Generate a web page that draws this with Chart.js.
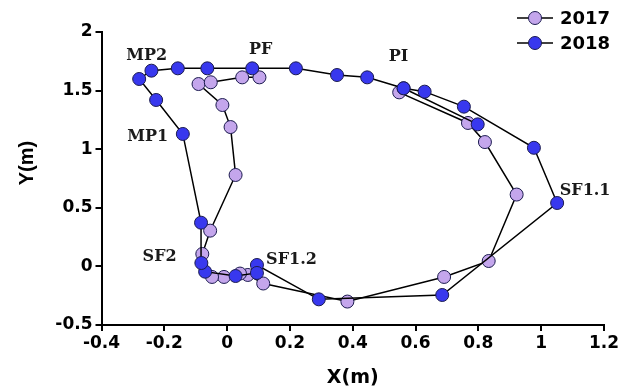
<!DOCTYPE html>
<html>
<head>
<meta charset="utf-8">
<script src="https://cdn.jsdelivr.net/npm/chart.js@4.4.1/dist/chart.umd.min.js"></script>
<style>
  html, body { margin: 0; padding: 0; background: #fff; }
  #wrap { width: 621px; height: 391px; position: relative; }
</style>
</head>
<body>
<div id="wrap"><canvas id="c"></canvas></div>
<script>
// ---- data ----
const seriesNames = ['2017', '2018'];
const x2017 = [0.548, 0.767, 0.821, 0.922, 0.833, 0.691, 0.383, 0.115, 0.066, 0.041, -0.010, -0.048, -0.079, -0.054, 0.027, 0.011, -0.015, -0.091, -0.052, 0.048, 0.103];
const y2017 = [1.485, 1.224, 1.061, 0.613, 0.046, -0.090, -0.300, -0.146, -0.073, -0.061, -0.090, -0.090, 0.106, 0.305, 0.780, 1.189, 1.377, 1.556, 1.571, 1.613, 1.613];
const x2018 = [0.562, 0.629, 0.754, 0.977, 1.051, 0.685, 0.292, 0.095, 0.095, 0.027, -0.070, -0.082, -0.083, -0.141, -0.226, -0.280, -0.241, -0.157, -0.063, 0.080, 0.219, 0.350, 0.446, 0.562, 0.798];
const y2018 = [1.520, 1.491, 1.363, 1.012, 0.541, -0.244, -0.281, 0.012, -0.056, -0.082, -0.045, 0.029, 0.373, 1.130, 1.420, 1.599, 1.670, 1.690, 1.690, 1.690, 1.690, 1.633, 1.613, 1.520, 1.212];

const xTickValues = [-0.4, -0.2, 0, 0.2, 0.4, 0.6, 0.8, 1, 1.2];
const xTickLabels = ['-0.4', '-0.2', '0', '0.2', '0.4', '0.6', '0.8', '1', '1.2'];
const yTickValues = [-0.5, 0, 0.5, 1, 1.5, 2];
const yTickLabels = ['-0.5', '0', '0.5', '1', '1.5', '2'];

const phaseLabels = ['MP2', 'PF', 'PI', 'MP1', 'SF2', 'SF1.2', 'SF1.1'];
const phaseX = [-0.256, 0.107, 0.546, -0.253, -0.215, 0.205, 1.140];
const phaseY = [1.795, 1.846, 1.787, 1.104, 0.080, 0.055, 0.643];

const xTitle = 'X(m)';
const yTitle = 'Y(m)';

// ---- styles ----
const purple = '#c4a6ec';
const blue = '#3838ee';
const edge = '#1c1c50';

function pts(xs, ys) { return xs.map((x, i) => ({ x: x, y: ys[i] })); }

const phasePlugin = {
  id: 'phaseLabels',
  afterDatasetsDraw(chart) {
    const { ctx, scales } = chart;
    ctx.save();
    ctx.font = 'bold 16px "DejaVu Serif"';
    ctx.fillStyle = '#1a1a1a';
    ctx.textAlign = 'center';
    ctx.textBaseline = 'middle';
    phaseLabels.forEach((t, i) => {
      ctx.fillText(t, scales.x.getPixelForValue(phaseX[i]), scales.y.getPixelForValue(phaseY[i]));
    });
    ctx.restore();
  }
};

const titlePlugin = {
  id: 'axisTitles',
  afterDraw(chart) {
    const { ctx, chartArea } = chart;
    ctx.save();
    ctx.fillStyle = '#000';
    ctx.textAlign = 'center';
    ctx.textBaseline = 'middle';
    ctx.font = 'bold 19px "DejaVu Sans"';
    ctx.fillText(xTitle, (chartArea.left + chartArea.right) / 2, 378);
    ctx.translate(27, 163);
    ctx.rotate(-Math.PI / 2);
    ctx.font = 'bold 20px "Liberation Sans"';
    ctx.fillText(yTitle, 0, 0);
    ctx.restore();
  }
};

const legendPlugin = {
  id: 'customLegend',
  afterDraw(chart) {
    const { ctx } = chart;
    ctx.save();
    const rows = [18, 43];
    chart.data.datasets.slice().sort((a, b) => seriesNames.indexOf(a.label) - seriesNames.indexOf(b.label)).forEach((ds, i) => {
      const y = rows[i];
      ctx.strokeStyle = '#000';
      ctx.lineWidth = 1.5;
      ctx.beginPath();
      ctx.moveTo(517, y);
      ctx.lineTo(553, y);
      ctx.stroke();
      ctx.beginPath();
      ctx.arc(535, y, 6.5, 0, Math.PI * 2);
      ctx.fillStyle = ds.pointBackgroundColor;
      ctx.fill();
      ctx.lineWidth = 1;
      ctx.strokeStyle = edge;
      ctx.stroke();
      ctx.fillStyle = '#000';
      ctx.font = 'bold 18px "DejaVu Sans"';
      ctx.textAlign = 'left';
      ctx.textBaseline = 'middle';
      ctx.fillText(ds.label, 560, y + 1);
    });
    ctx.restore();
  }
};

const whiteBg = {
  id: 'whiteBg',
  beforeDraw(chart) {
    const { ctx } = chart;
    ctx.save();
    ctx.fillStyle = '#fff';
    ctx.fillRect(0, 0, chart.width, chart.height);
    ctx.restore();
  }
};

new Chart(document.getElementById('c'), {
  type: 'scatter',
  data: {
    datasets: [
      {
        label: seriesNames[0],
        data: pts(x2017, y2017),
        showLine: true,
        borderColor: '#000',
        borderWidth: 1.5,
        pointBackgroundColor: purple,
        pointBorderColor: edge,
        pointBorderWidth: 1,
        pointRadius: 6.5,
        tension: 0,
        order: 1
      },
      {
        label: seriesNames[1],
        data: pts(x2018, y2018),
        showLine: true,
        borderColor: '#000',
        borderWidth: 1.5,
        pointBackgroundColor: blue,
        pointBorderColor: edge,
        pointBorderWidth: 1,
        pointRadius: 6.5,
        tension: 0,
        order: 0
      }
    ]
  },
  options: {
    responsive: true,
    maintainAspectRatio: false,
    animation: false,
    events: [],
    layout: { padding: { top: 32, right: 13, left: 0, bottom: 0 } },
    plugins: { legend: { display: false }, tooltip: { enabled: false } },
    scales: {
      x: {
        type: 'linear',
        min: -0.4, max: 1.2,
        afterBuildTicks(s) { s.ticks = xTickValues.map(v => ({ value: v })); },
        afterFit(s) { s.height = 66; },
        grid: { display: true, drawOnChartArea: false, drawTicks: true, tickLength: 6, color: '#000', lineWidth: 2 },
        border: { display: true, color: '#000', width: 2 },
        ticks: {
          color: '#000',
          font: { family: 'DejaVu Sans', weight: 'bold', size: 17 },
          padding: 2,
          maxRotation: 0,
          autoSkip: false,
          callback: (v, i) => xTickLabels[i]
        }
      },
      y: {
        type: 'linear',
        min: -0.5, max: 2,
        afterBuildTicks(s) { s.ticks = yTickValues.map(v => ({ value: v })); },
        afterFit(s) { s.width = 101.5; },
        grid: { display: true, drawOnChartArea: false, drawTicks: true, tickLength: 6, color: '#000', lineWidth: 2 },
        border: { display: true, color: '#000', width: 2 },
        ticks: {
          color: '#000',
          font: { family: 'DejaVu Sans', weight: 'bold', size: 17 },
          padding: 3,
          autoSkip: false,
          callback: (v, i) => yTickLabels[i]
        }
      }
    }
  },
  plugins: [whiteBg, phasePlugin, titlePlugin, legendPlugin]
});
</script>
</body>
</html>
